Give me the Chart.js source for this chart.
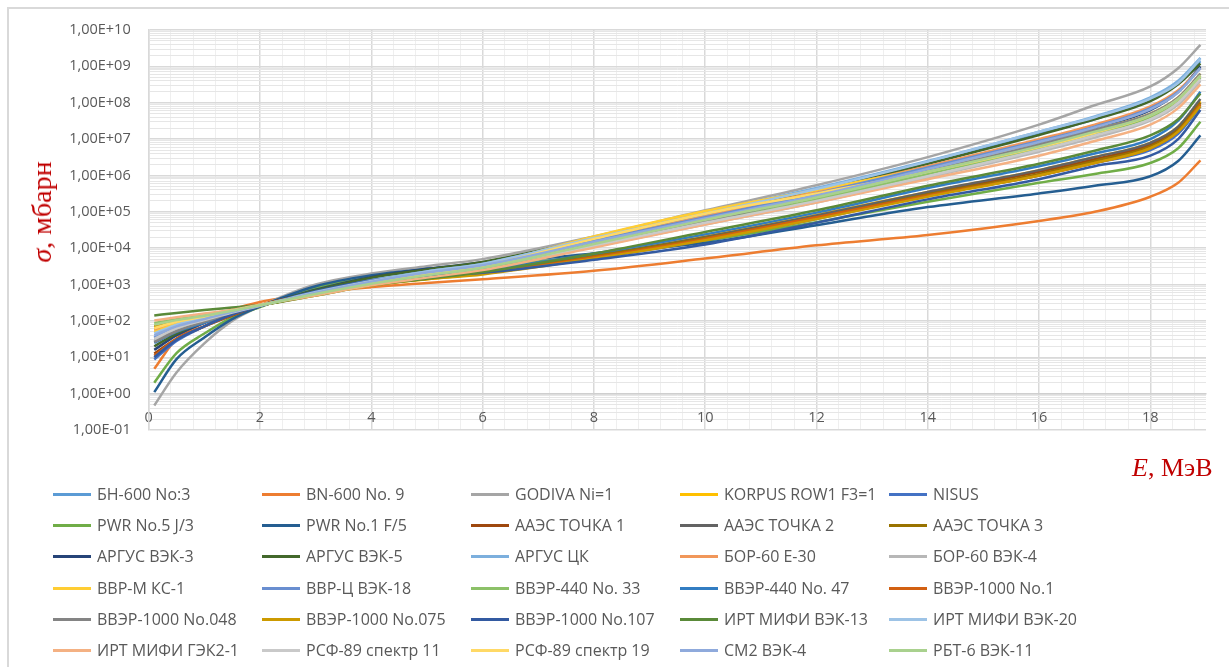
<!DOCTYPE html>
<html>
<head>
<meta charset="utf-8">
<script src="https://cdn.jsdelivr.net/npm/chart.js@4.4.1/dist/chart.umd.min.js"></script>
<style>
  html, body { margin: 0; padding: 0; background: #fff; }
  #wrap { position: relative; width: 1229px; height: 667px; overflow: hidden; background: #fff; }
  #frame { position: absolute; left: 7px; top: 7px; width: 1300px; height: 700px;
           border-left: 2px solid #d9d9d9; border-top: 2px solid #d9d9d9; }
  #chart { position: absolute; left: 0; top: 0; }
  .title { position: absolute; color: #c00000; font-family: "Liberation Serif", "DejaVu Serif", serif;
           font-size: 26px; line-height: 26px; white-space: nowrap; }
  #ytitle { left: 42px; top: 212px; font-size: 28px; line-height: 28px; transform: translate(-50%, -50%) rotate(-90deg); }
  #xtitle { left: 1132px; top: 455px; }
  #legend { position: absolute; left: 0; top: 0; width: 1229px; height: 667px; }
  .item { position: absolute; height: 20px; font-family: "Open Sans", sans-serif; font-size: 16px;
          line-height: 20px; color: #595959; white-space: nowrap; }
  .item .swatch { position: absolute; left: 0; top: 8.5px; width: 38px; height: 3px; }
  .item .text { position: absolute; left: 44px; top: 0; }
</style>
</head>
<body>
<div id="wrap">
  <div id="frame"></div>
  <canvas id="chart" width="1229" height="667"></canvas>
  <div class="title" id="ytitle"><i>σ</i>, мбарн</div>
  <div class="title" id="xtitle"><i>E</i>, МэВ</div>
  <div id="legend"></div>
</div>
<script>
// Threshold energy grid, MeV
const energy = [0.1, 0.5, 1, 1.5, 2, 3, 4, 5, 6, 8, 10, 12, 14, 16, 17, 18, 18.5, 18.9];

// Effective cross sections, mbarn, one array per spectrum
const bn600_3      = [35, 71, 110, 180, 265, 600, 1200, 2100, 3300, 1.8e4, 8.3e4, 4.0e5, 2.2e6, 1.4e7, 3.5e7, 1.3e8, 3.5e8, 1.4e9];
const bn600_9      = [4.8, 32, 89, 200, 330, 590, 850, 1100, 1400, 2400, 5200, 1.2e4, 2.3e4, 5.6e4, 1.0e5, 2.6e5, 6.3e5, 2.6e6];
const godiva       = [0.47, 3.8, 24, 100, 250, 1000, 2000, 3200, 5000, 2.1e4, 1.1e5, 5.4e5, 3.2e6, 2.5e7, 8.5e7, 2.8e8, 8.9e8, 3.9e9];
const korpus       = [58, 89, 126, 190, 270, 500, 950, 1400, 2000, 6300, 2.2e4, 8.3e4, 3.5e5, 1.4e6, 3.2e6, 7.9e6, 2.2e7, 1.1e8];
const nisus        = [8.7, 28, 71, 160, 255, 660, 1350, 1900, 2500, 5600, 1.6e4, 6.3e4, 2.8e5, 1.0e6, 2.2e6, 5.0e6, 1.4e7, 7.9e7];
const pwr5         = [2.0, 13, 45, 126, 240, 820, 1600, 2300, 3100, 6300, 1.6e4, 5.2e4, 1.9e5, 6.3e5, 1.1e6, 2.2e6, 5.6e6, 3.0e7];
const pwr1         = [1.1, 8.9, 35, 112, 250, 900, 1800, 2700, 3700, 7100, 1.4e4, 4.3e4, 1.35e5, 3.2e5, 5.2e5, 9.5e5, 2.5e6, 1.26e7];
const aaes1        = [12.6, 32, 71, 141, 270, 600, 1100, 1550, 2000, 5600, 2.0e4, 7.6e4, 3.2e5, 1.26e6, 2.8e6, 7.1e6, 2.0e7, 1.0e8];
const aaes2        = [28, 56, 100, 166, 260, 600, 1100, 1600, 2200, 6300, 2.0e4, 7.9e4, 3.5e5, 1.4e6, 3.2e6, 7.9e6, 2.2e7, 1.26e8];
const aaes3        = [71, 100, 132, 190, 265, 525, 1000, 1450, 2100, 6000, 1.9e4, 7.1e4, 3.0e5, 1.1e6, 2.5e6, 6.3e6, 1.8e7, 1.0e8];
const argus3       = [16, 40, 89, 160, 255, 720, 1600, 2700, 4100, 1.6e4, 6.3e4, 2.8e5, 1.4e6, 7.9e6, 2.0e7, 6.3e7, 2.0e8, 1.0e9];
const argus5       = [20, 45, 95, 166, 260, 700, 1550, 2600, 4200, 1.8e4, 7.9e4, 3.8e5, 2.1e6, 1.3e7, 3.5e7, 1.1e8, 3.2e8, 1.2e9];
const argusCK      = [32, 63, 112, 178, 265, 620, 1300, 2300, 3700, 1.9e4, 9.5e4, 4.5e5, 2.5e6, 1.6e7, 4.2e7, 1.4e8, 4.0e8, 1.7e9];
const bor60e30     = [56, 89, 132, 190, 275, 560, 1100, 1900, 3100, 1.6e4, 7.6e4, 3.5e5, 1.8e6, 1.0e7, 2.5e7, 7.9e7, 2.2e8, 8.9e8];
const bor60v4      = [28, 56, 100, 166, 260, 590, 1200, 1900, 2900, 1.1e4, 4.5e4, 1.8e5, 8.9e5, 4.5e6, 1.1e7, 3.2e7, 8.9e7, 4.0e8];
const vvrm         = [50, 83, 126, 186, 270, 560, 1150, 2000, 3300, 2.1e4, 1.05e5, 4.0e5, 1.6e6, 7.1e6, 1.8e7, 5.0e7, 1.4e8, 6.3e8];
const vvrc         = [35, 66, 112, 178, 265, 620, 1250, 2200, 3500, 1.6e4, 7.1e4, 3.2e5, 1.66e6, 8.9e6, 2.2e7, 7.1e7, 2.0e8, 8.9e8];
const vver440_33   = [87, 112, 141, 200, 275, 525, 1000, 1700, 2700, 1.26e4, 5.2e4, 2.2e5, 1.1e6, 5.6e6, 1.4e7, 4.0e7, 1.1e8, 5.0e8];
const vver440_47   = [25, 50, 89, 160, 260, 600, 1200, 1800, 2500, 7100, 2.4e4, 9.5e4, 4.5e5, 1.8e6, 4.0e6, 1.0e7, 3.2e7, 2.0e8];
const vver1000_1   = [11, 32, 71, 148, 270, 600, 1100, 1550, 2000, 5600, 1.8e4, 7.1e4, 2.8e5, 1.0e6, 2.2e6, 5.6e6, 1.6e7, 8.9e7];
const vver1000_048 = [26, 52, 95, 160, 260, 600, 1250, 2000, 3100, 1.3e4, 5.6e4, 2.6e5, 1.3e6, 7.1e6, 1.8e7, 5.0e7, 1.4e8, 6.3e8];
const vver1000_075 = [71, 100, 132, 190, 265, 525, 950, 1400, 1900, 5200, 1.66e4, 6.3e4, 2.6e5, 1.0e6, 2.2e6, 5.6e6, 1.6e7, 7.9e7];
const vver1000_107 = [10, 30, 71, 150, 255, 660, 1280, 1750, 2100, 4800, 1.26e4, 5.0e4, 2.2e5, 7.9e5, 1.8e6, 3.5e6, 1.0e7, 6.3e7];
const irt13        = [141, 166, 200, 234, 275, 500, 950, 1450, 2200, 7100, 2.8e4, 1.1e5, 5.2e5, 2.1e6, 4.8e6, 1.26e7, 3.5e7, 1.8e8];
const irt20        = [45, 79, 126, 186, 265, 620, 1250, 2300, 3700, 1.9e4, 8.9e4, 4.2e5, 2.4e6, 1.6e7, 4.0e7, 1.3e8, 3.5e8, 1.6e9];
const irtGEK       = [102, 126, 160, 200, 280, 500, 950, 1550, 2500, 1.05e4, 4.5e4, 1.8e5, 7.9e5, 3.5e6, 8.9e6, 2.5e7, 7.1e7, 3.2e8];
const rsf11        = [32, 63, 105, 170, 260, 590, 1200, 2000, 3100, 1.2e4, 5.0e4, 2.0e5, 9.5e5, 5.0e6, 1.26e7, 3.5e7, 1.0e8, 4.5e8];
const rsf19        = [63, 95, 132, 190, 270, 560, 1100, 1950, 3200, 1.8e4, 8.9e4, 3.2e5, 1.26e6, 6.0e6, 1.5e7, 4.5e7, 1.26e8, 5.6e8];
const cm2          = [40, 71, 112, 178, 265, 600, 1200, 2150, 3400, 1.5e4, 6.6e4, 2.8e5, 1.5e6, 8.3e6, 2.1e7, 6.6e7, 1.9e8, 8.9e8];
const rbt6         = [79, 105, 138, 190, 270, 550, 1050, 1800, 2900, 1.3e4, 6.0e4, 2.5e5, 1.26e6, 6.3e6, 1.6e7, 4.5e7, 1.26e8, 5.6e8];

const seriesNames = [
  'БН-600 No:3', 'BN-600 No. 9', 'GODIVA Ni=1', 'KORPUS ROW1 F3=1', 'NISUS',
  'PWR No.5 J/3', 'PWR No.1 F/5', 'ААЭС ТОЧКА 1', 'ААЭС ТОЧКА 2', 'ААЭС ТОЧКА 3',
  'АРГУС ВЭК-3', 'АРГУС ВЭК-5', 'АРГУС ЦК', 'БОР-60 Е-30', 'БОР-60 ВЭК-4',
  'ВВР-М КС-1', 'ВВР-Ц ВЭК-18', 'ВВЭР-440 No. 33', 'ВВЭР-440 No. 47', 'ВВЭР-1000 No.1',
  'ВВЭР-1000 No.048', 'ВВЭР-1000 No.075', 'ВВЭР-1000 No.107', 'ИРТ МИФИ ВЭК-13', 'ИРТ МИФИ ВЭК-20',
  'ИРТ МИФИ ГЭК2-1', 'РСФ-89 спектр 11', 'РСФ-89 спектр 19', 'СМ2 ВЭК-4', 'РБТ-6 ВЭК-11'
];
const seriesValues = [
  bn600_3, bn600_9, godiva, korpus, nisus,
  pwr5, pwr1, aaes1, aaes2, aaes3,
  argus3, argus5, argusCK, bor60e30, bor60v4,
  vvrm, vvrc, vver440_33, vver440_47, vver1000_1,
  vver1000_048, vver1000_075, vver1000_107, irt13, irt20,
  irtGEK, rsf11, rsf19, cm2, rbt6
];
const seriesColors = [
  '#5B9BD5', '#ED7D31', '#A5A5A5', '#FFC000', '#4472C4',
  '#70AD47', '#255E91', '#9E480E', '#636363', '#997300',
  '#264478', '#43682B', '#7CAFDD', '#F1975A', '#B7B7B7',
  '#FFCD33', '#698ED0', '#8CC168', '#327DC2', '#D26012',
  '#848484', '#CC9A00', '#335AA1', '#5A8A39', '#9DC3E6',
  '#F4B183', '#C9C9C9', '#FFD966', '#8FAADC', '#A9D18E'
];

// Axis tick labels
const xTickLabels = ['0', '2', '4', '6', '8', '10', '12', '14', '16', '18'];
const yTickLabels = ['1,00E-01', '1,00E+00', '1,00E+01', '1,00E+02', '1,00E+03', '1,00E+04',
                     '1,00E+05', '1,00E+06', '1,00E+07', '1,00E+08', '1,00E+09', '1,00E+10'];

const tickFont = { family: '"Open Sans", sans-serif', size: 14.5 };
const tickColor = '#595959';
const majorGrid = '#d9d9d9';
const minorGridY = '#e6e6e6';
const minorGridX = '#efefef';

function isDecade(v) {
  const l = Math.log10(v);
  return Math.abs(l - Math.round(l)) < 1e-9;
}
function isEven(v) {
  return Math.abs(v / 2 - Math.round(v / 2)) < 1e-6;
}

const datasets = seriesNames.map((name, i) => ({
  label: name,
  data: energy.map((e, j) => ({ x: e, y: seriesValues[i][j] })),
  borderColor: seriesColors[i],
  backgroundColor: seriesColors[i],
  borderWidth: 2.5,
  pointRadius: 0,
  fill: false,
  cubicInterpolationMode: 'monotone',
  order: seriesNames.length - i
}));

new Chart(document.getElementById('chart'), {
  type: 'line',
  data: { datasets },
  options: {
    responsive: false,
    animation: false,
    devicePixelRatio: 1,
    events: [],
    layout: { padding: { left: 0, top: 30, right: 23, bottom: 237 } },
    plugins: { legend: { display: false }, tooltip: { enabled: false } },
    scales: {
      x: {
        type: 'linear',
        min: 0,
        max: 19,
        position: { y: 1 },
        afterBuildTicks: (scale) => {
          const t = [];
          for (let k = 0; k * 0.4 <= 18.81; k++) t.push({ value: Math.round(k * 4) / 10 });
          scale.ticks = t;
        },
        ticks: {
          autoSkip: false,
          maxRotation: 0,
          padding: 16,
          color: tickColor,
          font: tickFont,
          callback: (v) => isEven(v) ? xTickLabels[Math.round(v / 2)] : ''
        },
        grid: {
          drawTicks: false,
          lineWidth: (c) => (c.tick && isEven(c.tick.value)) ? 1.5 : 1,
          color: (c) => (c.tick && isEven(c.tick.value)) ? majorGrid : minorGridX
        },
        border: { display: true, color: '#cfcfcf', width: 1.5 }
      },
      y: {
        type: 'logarithmic',
        min: 0.1,
        max: 1e10,
        afterFit: (scale) => { scale.width = 148.7; },
        afterBuildTicks: (scale) => {
          const t = [];
          for (let e = -1; e < 10; e++) {
            for (let m = 1; m <= 9; m++) t.push({ value: m * Math.pow(10, e) });
          }
          t.push({ value: 1e10 });
          scale.ticks = t;
        },
        ticks: {
          autoSkip: false,
          padding: 18,
          color: tickColor,
          font: tickFont,
          callback: (v) => isDecade(v) ? yTickLabels[Math.round(Math.log10(v)) + 1] : ''
        },
        grid: {
          drawTicks: false,
          lineWidth: (c) => (c.tick && isDecade(c.tick.value)) ? 1.5 : 1,
          color: (c) => (c.tick && isDecade(c.tick.value)) ? majorGrid : minorGridY
        },
        border: { display: true, color: majorGrid, width: 1.5 }
      }
    }
  }
});

// Legend: five columns, six rows, built from the series names and colours
const legendCols = [53, 262, 471, 680, 889];
const legendRows = [494, 525, 556, 588, 619, 650];
const legend = document.getElementById('legend');
seriesNames.forEach((name, i) => {
  const item = document.createElement('div');
  item.className = 'item';
  item.style.left = legendCols[i % 5] + 'px';
  item.style.top = (legendRows[Math.floor(i / 5)] - 10) + 'px';
  const sw = document.createElement('div');
  sw.className = 'swatch';
  sw.style.background = seriesColors[i];
  const tx = document.createElement('span');
  tx.className = 'text';
  tx.textContent = name;
  item.appendChild(sw);
  item.appendChild(tx);
  legend.appendChild(item);
});
</script>
</body>
</html>
